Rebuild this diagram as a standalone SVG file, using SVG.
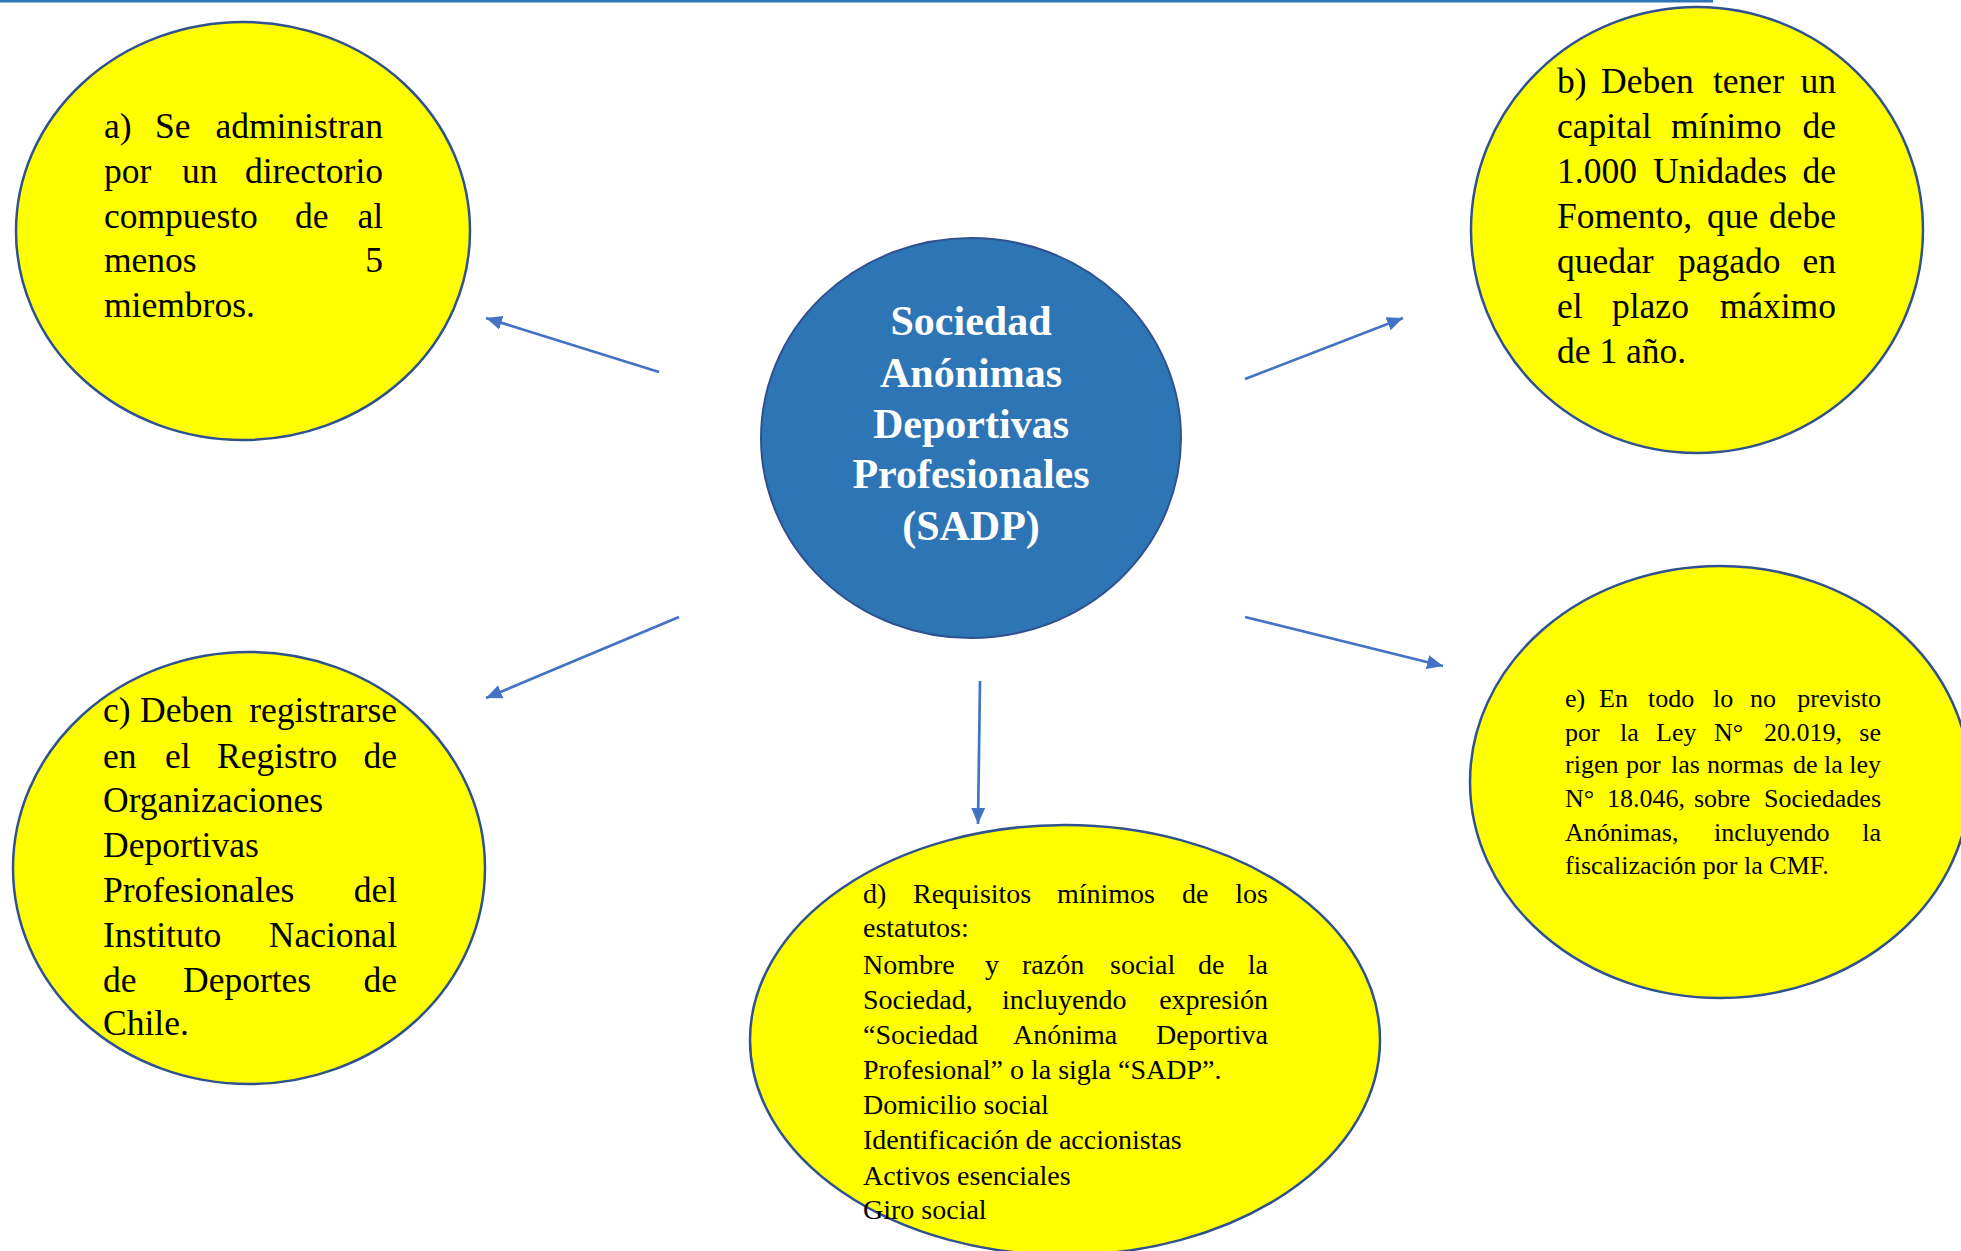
<svg xmlns="http://www.w3.org/2000/svg" width="1961" height="1251" viewBox="0 0 1961 1251">
<style>
.yel{fill:#FFFF00;stroke:#2F528F;stroke-width:2.5}
.ctr{fill:#2E75B6;stroke:#2F528F;stroke-width:2}
.t{font-family:"Liberation Serif","Times New Roman",serif;fill:#000}
.s36{font-size:35.5px}
.s28{font-size:28px}
.s26{font-size:26px}
.end{text-anchor:end}
.ct{font-family:"Liberation Serif","Times New Roman",serif;font-size:42px;font-weight:bold;fill:#FFFFFF;text-anchor:middle}
.conn{stroke:#4472C4;stroke-width:2.7;fill:none;marker-end:url(#ah)}
</style>
<defs>
<marker id="ah" markerUnits="userSpaceOnUse" markerWidth="17" markerHeight="14" refX="16" refY="7" orient="auto">
<path d="M0,0 L16,7 L0,14 z" fill="#4472C4"/>
</marker>
</defs>
<rect x="0" y="0" width="1961" height="1251" fill="#FFFFFF"/>
<rect x="0" y="0" width="1713" height="2.5" fill="#2E75B6"/>

<g id="connectors">
<line class="conn" x1="659" y1="372" x2="486" y2="318"/>
<line class="conn" x1="679" y1="617" x2="486" y2="698"/>
<line class="conn" x1="1245" y1="379" x2="1403" y2="318"/>
<line class="conn" x1="1245" y1="617" x2="1443" y2="666"/>
<line class="conn" x1="980" y1="681" x2="978" y2="824"/>
</g>

<g id="node-a">
<ellipse class="yel" cx="243" cy="231" rx="227" ry="209"/>
<text class="t s36" y="138"><tspan x="104">a)</tspan><tspan x="155">Se</tspan></text>
<text class="t s36 end" x="383" y="138">administran</text>
<text class="t s36" y="183"><tspan x="104">por</tspan><tspan x="182">un</tspan></text>
<text class="t s36 end" x="383" y="183">directorio</text>
<text class="t s36" y="228"><tspan x="104">compuesto</tspan><tspan x="295">de</tspan></text>
<text class="t s36 end" x="383" y="228">al</text>
<text class="t s36" x="104" y="272">menos</text>
<text class="t s36 end" x="383" y="272">5</text>
<text class="t s36" x="104" y="317">miembros.</text>
</g>

<g id="node-b">
<ellipse class="yel" cx="1697" cy="230" rx="226" ry="223"/>
<text class="t s36" y="93"><tspan x="1557">b)</tspan><tspan x="1601">Deben</tspan><tspan x="1713">tener</tspan></text>
<text class="t s36 end" x="1836" y="93">un</text>
<text class="t s36" y="138"><tspan x="1557">capital</tspan><tspan x="1671">mínimo</tspan></text>
<text class="t s36 end" x="1836" y="138">de</text>
<text class="t s36" y="183"><tspan x="1557">1.000</tspan><tspan x="1653">Unidades</tspan></text>
<text class="t s36 end" x="1836" y="183">de</text>
<text class="t s36" y="228"><tspan x="1557">Fomento,</tspan><tspan x="1707">que</tspan></text>
<text class="t s36 end" x="1836" y="228">debe</text>
<text class="t s36" y="273"><tspan x="1557">quedar</tspan><tspan x="1678">pagado</tspan></text>
<text class="t s36 end" x="1836" y="273">en</text>
<text class="t s36" y="318"><tspan x="1557">el</tspan><tspan x="1612">plazo</tspan></text>
<text class="t s36 end" x="1836" y="318">máximo</text>
<text class="t s36" x="1557" y="363">de 1 año.</text>
</g>

<g id="node-c">
<ellipse class="yel" cx="249" cy="868" rx="236" ry="216"/>
<text class="t s36" y="722"><tspan x="103">c)</tspan><tspan x="140">Deben</tspan></text>
<text class="t s36 end" x="397" y="722">registrarse</text>
<text class="t s36" y="768"><tspan x="103">en</tspan><tspan x="165">el</tspan><tspan x="217">Registro</tspan></text>
<text class="t s36 end" x="397" y="768">de</text>
<text class="t s36" x="103" y="812">Organizaciones</text>
<text class="t s36" x="103" y="857">Deportivas</text>
<text class="t s36" x="103" y="902">Profesionales</text>
<text class="t s36 end" x="397" y="902">del</text>
<text class="t s36" x="103" y="947">Instituto</text>
<text class="t s36 end" x="397" y="947">Nacional</text>
<text class="t s36" y="992"><tspan x="103">de</tspan><tspan x="183">Deportes</tspan></text>
<text class="t s36 end" x="397" y="992">de</text>
<text class="t s36" x="103" y="1035">Chile.</text>
</g>

<g id="node-d">
<ellipse class="yel" cx="1065" cy="1040" rx="315" ry="215"/>
<text class="t s28" y="903"><tspan x="863">d)</tspan><tspan x="913">Requisitos</tspan><tspan x="1057">mínimos</tspan><tspan x="1182">de</tspan></text>
<text class="t s28 end" x="1268" y="903">los</text>
<text class="t s28" x="863" y="937">estatutos:</text>
<text class="t s28" y="974"><tspan x="863">Nombre</tspan><tspan x="985">y</tspan><tspan x="1022">razón</tspan><tspan x="1110">social</tspan><tspan x="1198">de</tspan></text>
<text class="t s28 end" x="1268" y="974">la</text>
<text class="t s28" y="1009"><tspan x="863">Sociedad,</tspan><tspan x="1002">incluyendo</tspan></text>
<text class="t s28 end" x="1268" y="1009">expresión</text>
<text class="t s28" y="1044"><tspan x="863">“Sociedad</tspan><tspan x="1013">Anónima</tspan></text>
<text class="t s28 end" x="1268" y="1044">Deportiva</text>
<text class="t s28" x="863" y="1079">Profesional” o la sigla “SADP”.</text>
<text class="t s28" x="863" y="1114">Domicilio social</text>
<text class="t s28" x="863" y="1149">Identificación de accionistas</text>
<text class="t s28" x="863" y="1185">Activos esenciales</text>
<text class="t s28" x="863" y="1219">Giro social</text>
</g>

<g id="node-e">
<ellipse class="yel" cx="1720" cy="782" rx="250" ry="216"/>
<text class="t s26" y="707"><tspan x="1565">e)</tspan><tspan x="1599">En</tspan><tspan x="1648">todo</tspan><tspan x="1713">lo</tspan><tspan x="1750">no</tspan></text>
<text class="t s26 end" x="1881" y="707">previsto</text>
<text class="t s26" y="741"><tspan x="1565">por</tspan><tspan x="1620">la</tspan><tspan x="1656">Ley</tspan><tspan x="1714">N°</tspan><tspan x="1764">20.019,</tspan></text>
<text class="t s26 end" x="1881" y="741">se</text>
<text class="t s26" y="773"><tspan x="1565">rigen</tspan><tspan x="1626">por</tspan><tspan x="1671">las</tspan><tspan x="1707">normas</tspan><tspan x="1793">de</tspan><tspan x="1824">la</tspan></text>
<text class="t s26 end" x="1881" y="773">ley</text>
<text class="t s26" y="807"><tspan x="1565">N°</tspan><tspan x="1607">18.046,</tspan><tspan x="1694">sobre</tspan></text>
<text class="t s26 end" x="1881" y="807">Sociedades</text>
<text class="t s26" y="841"><tspan x="1565">Anónimas,</tspan><tspan x="1714">incluyendo</tspan></text>
<text class="t s26 end" x="1881" y="841">la</text>
<text class="t s26" x="1565" y="874">fiscalización por la CMF.</text>
</g>

<g id="node-center">
<ellipse class="ctr" cx="971" cy="438" rx="210" ry="200"/>
<text class="ct" x="971" y="335">Sociedad</text>
<text class="ct" x="971" y="387">Anónimas</text>
<text class="ct" x="971" y="438">Deportivas</text>
<text class="ct" x="971" y="488">Profesionales</text>
<text class="ct" x="971" y="540">(SADP)</text>
</g>
</svg>
